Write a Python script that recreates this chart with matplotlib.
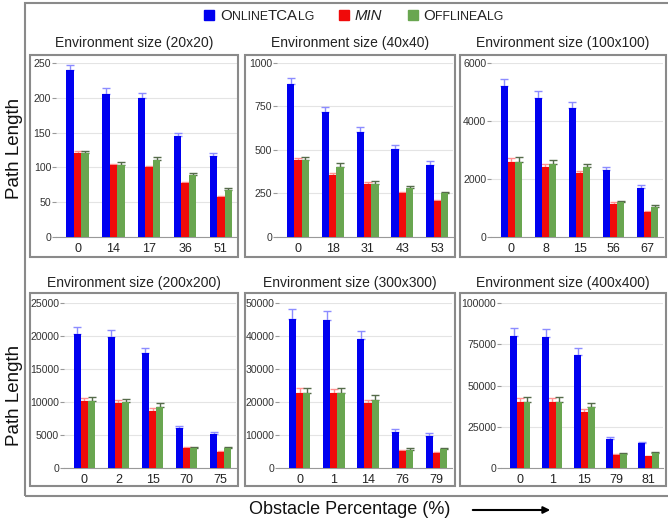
import numpy as np
import matplotlib.pyplot as plt
from matplotlib.patches import Rectangle, FancyArrowPatch

plt.rcParams['font.family'] = ['Liberation Sans', 'DejaVu Sans']

# data
sizes = ['20x20', '40x40', '100x100', '200x200', '300x300', '400x400']
obstacles = [[0, 14, 17, 36, 51], [0, 18, 31, 43, 53], [0, 8, 15, 56, 67],
             [0, 2, 15, 70, 75], [0, 1, 14, 76, 79], [0, 1, 15, 79, 81]]
online = [[240, 206, 200, 145, 116],
          [880, 720, 605, 505, 415],
          [5200, 4800, 4450, 2300, 1700],
          [20300, 19900, 17400, 6100, 5100],
          [45300, 44800, 39000, 11000, 9800],
          [80000, 79500, 68500, 17500, 15000]]
min_vals = [[120, 103, 100, 77, 58],
            [440, 355, 305, 250, 205],
            [2600, 2400, 2200, 1150, 850],
            [10100, 9900, 8700, 3000, 2500],
            [22600, 22600, 19600, 5300, 4600],
            [40000, 40000, 34000, 8000, 7000]]
offline = [[120, 104, 111, 89, 68],
           [440, 405, 305, 280, 250],
           [2600, 2500, 2400, 1200, 1050],
           [10200, 10000, 9300, 3100, 3000],
           [22600, 22600, 20600, 5600, 5900],
           [40000, 40000, 37000, 8300, 9000]]
online_err = [[7, 8, 7, 5, 4],
              [35, 28, 25, 22, 20],
              [250, 250, 220, 120, 80],
              [1100, 1000, 800, 300, 300],
              [2800, 2800, 2400, 800, 700],
              [5000, 5000, 4500, 1000, 1000]]
min_err = [[3, 2, 2, 2, 1],
           [15, 12, 10, 8, 6],
           [120, 100, 90, 50, 40],
           [500, 450, 400, 150, 120],
           [1500, 1300, 1000, 300, 250],
           [2500, 2500, 2000, 500, 400]]
offline_err = [[4, 4, 4, 3, 2],
               [20, 18, 15, 12, 10],
               [150, 150, 120, 50, 50],
               [600, 500, 600, 150, 150],
               [1700, 1500, 1400, 400, 300],
               [3000, 3000, 2500, 600, 500]]
yticks = [[0, 50, 100, 150, 200, 250],
          [0, 250, 500, 750, 1000],
          [0, 2000, 4000, 6000],
          [0, 5000, 10000, 15000, 20000, 25000],
          [0, 10000, 20000, 30000, 40000, 50000],
          [0, 25000, 50000, 75000, 100000]]

W, H = 668, 520
fig = plt.figure(figsize=(W / 100, H / 100), dpi=100)


def fx(px):
    return px / W


def fy(py):
    return 1 - py / H


# axes extents in pixels (left, right, top, bottom)
ax_px = [(56, 237, 63, 237), (277, 453, 63, 237), (491, 663, 63, 237),
         (64, 236, 303, 468), (279, 452, 303, 468), (501, 663, 303, 468)]
box_x = [(30, 238), (245, 455), (460, 666)]
box_y = [(55, 257), (293, 486)]
title_y = [43, 283]

c_on, c_min, c_off = '#0000f0', '#f00a0a', '#69a650'
e_on, e_min, e_off = '#8c8cff', '#ff9090', '#556b4a'

# outer frame
fig.patches.append(Rectangle((fx(25), fy(496)), fx(700) - fx(25), fy(3) - fy(496),
                             transform=fig.transFigure, fill=False,
                             edgecolor='#8a8a8a', lw=1.5))

w = 0.21
for i in range(6):
    l, r, t, b = ax_px[i]
    ax = fig.add_axes([fx(l), fy(b), fx(r) - fx(l), fy(t) - fy(b)])
    x = np.arange(5)
    z = np.zeros(5)
    ax.bar(x - w, online[i], w, color=c_on, zorder=3,
           yerr=[z, online_err[i]], error_kw=dict(ecolor=e_on, lw=1, capsize=3, zorder=2))
    ax.bar(x, min_vals[i], w, color=c_min, zorder=3,
           yerr=[z, min_err[i]], error_kw=dict(ecolor=e_min, lw=1, capsize=3, zorder=2))
    ax.bar(x + w, offline[i], w, color=c_off, zorder=3,
           yerr=[z, offline_err[i]], error_kw=dict(ecolor=e_off, lw=1, capsize=3, zorder=2))
    ax.set_xlim(-0.6, 4.45)
    ax.set_ylim(0, yticks[i][-1])
    ax.set_yticks(yticks[i])
    ax.set_xticks(x)
    ax.set_xticklabels([str(o) for o in obstacles[i]])
    ax.tick_params(axis='x', length=0, labelsize=9, pad=4, colors='#222222')
    ax.tick_params(axis='y', length=3, width=0.8, labelsize=7.6, pad=0.5,
                   color='#999999', labelcolor='#333333')
    ax.grid(axis='y', color='#e4e4e4', lw=0.8, zorder=0)
    for s in ['top', 'right', 'left']:
        ax.spines[s].set_visible(False)
    ax.spines['bottom'].set_color('#999999')
    ax.patch.set_alpha(0)

    row, col = divmod(i, 3)
    x0, x1 = box_x[col]
    y0, y1 = box_y[row]
    fig.patches.append(Rectangle((fx(x0), fy(y1)), fx(x1) - fx(x0), fy(y0) - fy(y1),
                                 transform=fig.transFigure, fill=False,
                                 edgecolor='#8a8a8a', lw=1.5))
    fig.text(fx((x0 + x1) / 2), fy(title_y[row]), 'Environment size (%s)' % sizes[i],
             ha='center', va='center', fontsize=10, color='#222222')

# axis labels
for yc in [148, 395]:
    fig.text(fx(15), fy(yc), 'Path Length', rotation=90, ha='center', va='center',
             fontsize=13.5, color='#111111')
fig.text(fx(350), fy(510), 'Obstacle Percentage (%)', ha='center', va='center',
         fontsize=13, color='#111111')
fig.add_artist(FancyArrowPatch((fx(470), fy(510)), (fx(553), fy(510)),
                               transform=fig.transFigure, arrowstyle='-|>',
                               mutation_scale=10, lw=1.5, color='black'))

# legend, small caps written piece by piece
renderer = fig.canvas.get_renderer()
BIG, SMALL = 10.8, 8.8
legend_items = [(c_on, [('O', BIG), ('NLINE', SMALL), ('TCA', BIG), ('LG', SMALL)], 'normal'),
                (c_min, [('MIN', BIG)], 'italic'),
                (c_off, [('O', BIG), ('FFLINE', SMALL), ('A', BIG), ('LG', SMALL)], 'normal')]
xpos = 204
for color, parts, style in legend_items:
    fig.patches.append(Rectangle((fx(xpos), fy(20)), 10 / W, 10 / H,
                                 transform=fig.transFigure, color=color))
    xpos += 16
    for txt, fs in parts:
        t = fig.text(fx(xpos), fy(20), txt, fontsize=fs, style=style,
                     ha='left', va='baseline', color='#222222')
        xpos = t.get_window_extent(renderer).x1
    xpos += 25

fig.savefig('out.png', dpi=100)
